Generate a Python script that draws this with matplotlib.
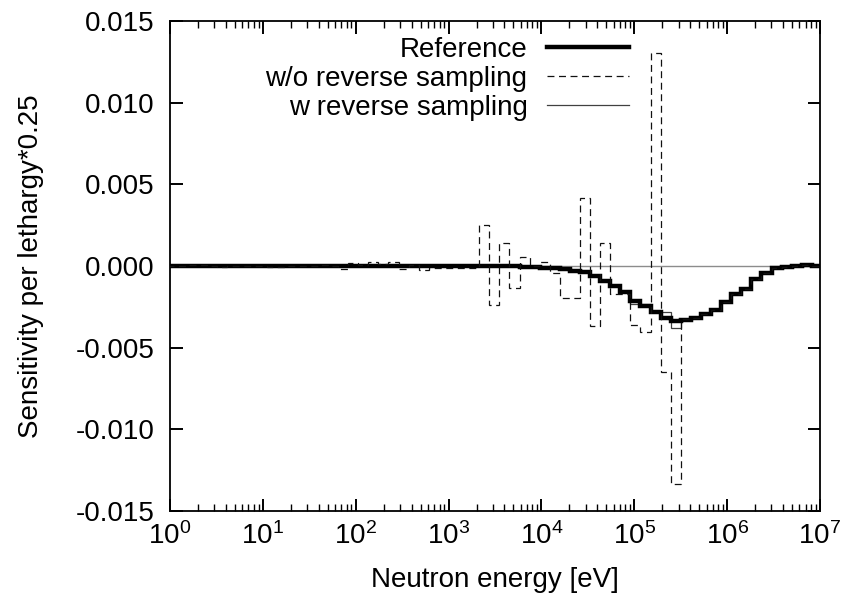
import numpy as np
import matplotlib
matplotlib.use("Agg")
import matplotlib.pyplot as plt
from matplotlib.lines import Line2D
from matplotlib.ticker import FormatStrFormatter, LogLocator, NullFormatter, MultipleLocator

plt.rcParams['font.family'] = ['Liberation Sans', 'DejaVu Sans']
plt.rcParams['mathtext.fontset'] = 'custom'
plt.rcParams['mathtext.rm'] = 'Liberation Sans'
plt.rcParams['mathtext.it'] = 'Liberation Sans:italic'
plt.rcParams['mathtext.bf'] = 'Liberation Sans:bold'
plt.rcParams['lines.scale_dashes'] = False

# ---- energy group structure (lethargy width 0.25) ----
top_energy = 1.05e7
lethargy_width = 0.25
n_groups = 65

# ---- sensitivities, group 1 = highest energy ----
reference = [
    0.00003, 0.00004, 0.00000, -0.00004, -0.00012, -0.00040, -0.00082, -0.00138,
    -0.00169, -0.00218, -0.00268, -0.00294, -0.00320, -0.00333, -0.00336, -0.00316,
    -0.00284, -0.00246, -0.00213, -0.00159, -0.00121, -0.00090, -0.00062, -0.00034,
    -0.00028, -0.00020, -0.00015, -0.00010, -0.00006, -0.00004, -0.00003, -0.00002,
    -0.00001, -0.00001, -0.00001, -0.00001, 0.00000, 0.00000, 0.00000, 0.00000,
    0.00000, 0.00000, 0.00000, 0.00000, 0.00000, 0.00000, 0.00000, 0.00000,
    0.00000, 0.00000, 0.00000, 0.00000, 0.00000, 0.00000, 0.00000, 0.00000,
    0.00000, 0.00000, 0.00000, 0.00000, 0.00000, 0.00000, 0.00000, 0.00000,
    0.00000,
]

without_reverse = [
    0.00003, 0.00004, 0.00000, -0.00004, -0.00012, -0.00040, -0.00082, -0.00138,
    -0.00169, -0.00218, -0.00268, -0.00294, -0.00320, -0.00325, -0.01333, -0.00650,
    0.01302, -0.00405, -0.00363, -0.00174, -0.00174, 0.00143, -0.00365, 0.00416,
    -0.00195, -0.00195, -0.00041, 0.00023, 0.00000, 0.00055, -0.00135, 0.00143,
    -0.00236, 0.00254, -0.00014, -0.00014, -0.00014, -0.00014, -0.00014, -0.00026,
    0.00006, -0.00020, 0.00023, 0.00012, 0.00027, 0.00006, 0.00017, -0.00016,
    0.00000, 0.00004, 0.00000, 0.00000, 0.00000, -0.00004, -0.00004, 0.00000,
    0.00000, 0.00003, 0.00000, -0.00005, 0.00000, 0.00005, 0.00005, 0.00000,
    0.00000,
]

with_reverse = [
    0.00003, 0.00004, 0.00000, -0.00004, -0.00012, -0.00040, -0.00082, -0.00138,
    -0.00169, -0.00218, -0.00268, -0.00294, -0.00320, -0.00322, -0.00380, -0.00282,
    -0.00284, -0.00230, -0.00230, -0.00159, -0.00121, -0.00090, -0.00062, -0.00034,
    -0.00028, -0.00020, -0.00015, -0.00010, -0.00006, -0.00004, -0.00003, -0.00002,
    -0.00001, -0.00001, -0.00001, -0.00001, 0.00000, 0.00000, 0.00000, 0.00000,
    0.00000, 0.00000, 0.00000, 0.00000, 0.00000, 0.00000, 0.00000, 0.00000,
    0.00000, 0.00000, 0.00000, 0.00000, 0.00000, 0.00000, 0.00000, 0.00000,
    0.00000, 0.00000, 0.00000, 0.00000, 0.00000, 0.00000, 0.00000, 0.00000,
    0.00000,
]

labels = ["Reference", "w/o reverse sampling", "w reverse sampling"]

edges = top_energy * np.exp(-lethargy_width * np.arange(n_groups + 1))

FS = 20
THICK = 3.2
fig = plt.figure(figsize=(8.46, 6.0), dpi=100)
ax = fig.add_axes([170 / 846, 89 / 600, 650 / 846, 490 / 600])

ax.axhline(0, color='#8c8c8c', lw=1.0, zorder=1)

ax.stairs(np.array(with_reverse)[::-1], edges[::-1], baseline=None,
          color='#404040', lw=0.9, zorder=2)
ax.stairs(np.array(reference)[::-1], edges[::-1], baseline=None,
          color='black', lw=THICK, zorder=3)
ax.stairs(np.array(without_reverse)[::-1], edges[::-1], baseline=None,
          color='#111111', lw=0.9, linestyle=(0, (5, 3.3)), zorder=4)

ax.set_xscale('log')
ax.set_xlim(1, 1e7)
ax.set_ylim(-0.015, 0.015)

ax.xaxis.set_major_locator(LogLocator(base=10, numticks=20))
ax.xaxis.set_minor_locator(LogLocator(base=10, subs=np.arange(2, 10), numticks=100))
ax.xaxis.set_minor_formatter(NullFormatter())
ax.yaxis.set_major_locator(MultipleLocator(0.005))
ax.yaxis.set_major_formatter(FormatStrFormatter('%.3f'))

ax.tick_params(which='both', direction='in', top=True, right=True, labelsize=FS)
ax.tick_params(which='major', length=9, width=1.4)
ax.tick_params(which='minor', length=5, width=1.0)
ax.tick_params(axis='y', pad=11)
ax.tick_params(axis='x', pad=8)
for s in ax.spines.values():
    s.set_linewidth(1.3)

ax.set_xlabel('Neutron energy [eV]', fontsize=FS, labelpad=12)
ax.set_ylabel('Sensitivity per lethargy*0.25', fontsize=FS, labelpad=23)

handles = [
    Line2D([], [], color='black', lw=THICK),
    Line2D([], [], color='#111111', lw=0.9, linestyle=(0, (5, 3.3))),
    Line2D([], [], color='#404040', lw=0.9),
]
ax.legend(handles, labels, loc='upper right', bbox_to_anchor=(0.706, 0.967),
          frameon=False, markerfirst=False, fontsize=FS, handlelength=2.95,
          handletextpad=0.7, labelspacing=0.1, borderpad=0, borderaxespad=0)

fig.savefig('out.png', dpi=100)
